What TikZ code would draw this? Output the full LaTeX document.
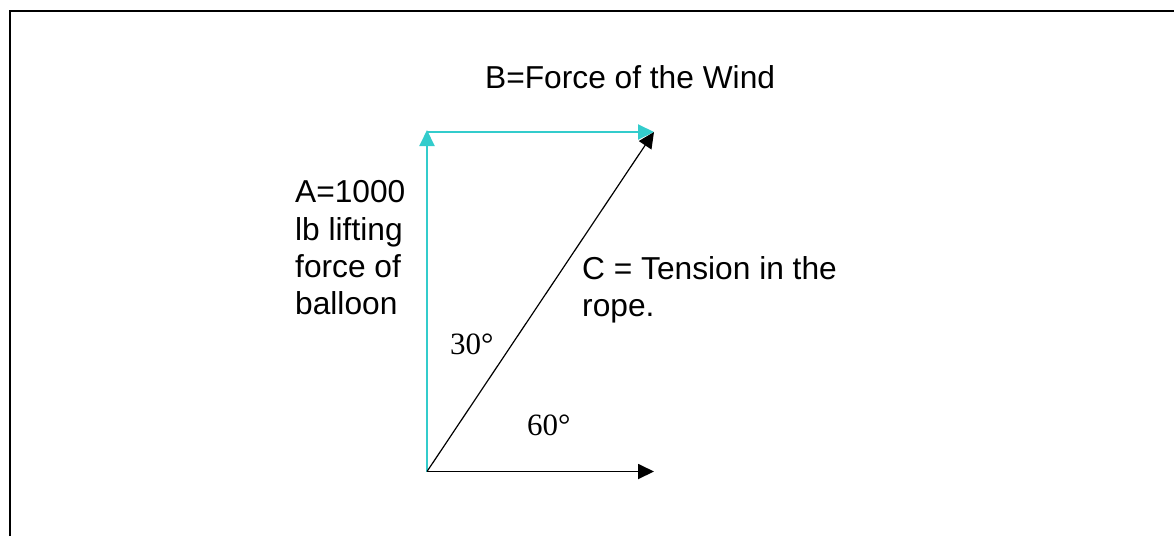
\documentclass[tikz,border=0pt]{standalone}
\usepackage{fontspec}
\setmainfont{Liberation Sans}
\newfontfamily\serifdeg{Liberation Serif}
\usetikzlibrary{arrows.meta}
\definecolor{vcyan}{RGB}{51,204,204}
\begin{document}
\begin{tikzpicture}[x=1pt,y=-1pt,
  lbl/.style={inner sep=0pt,anchor=base west,font=\fontsize{31.7}{37.5}\selectfont},
  deg/.style={inner sep=0pt,anchor=base west,font=\serifdeg\fontsize{31}{36}\selectfont},
  cyanarrow/.style={draw=vcyan,line width=2pt,-{Triangle[length=16pt,width=15pt]}},
  blackarrow/.style={draw=black,line width=1.2pt,-{Triangle[length=16pt,width=15pt]}},
  frame/.style={draw=black,line width=2pt}]
\useasboundingbox (0,0) rectangle (1174,536);
\draw[frame] (9.5,536) -- (9.5,11) -- (1174,11);
\coordinate (O) at (427,471.5);
\coordinate (Atip) at (427,130);
\coordinate (Bstart) at (427,132);
\coordinate (Btip) at (654,132);
\coordinate (Ctip) at (654,132);
\coordinate (Dtip) at (654,471.5);
\draw[cyanarrow] (O) -- (Atip);
\draw[cyanarrow] (Bstart) -- (Btip);
\draw[blackarrow] (O) -- (Ctip);
\draw[blackarrow,line width=1.8pt] (O) -- (Dtip);
\node[lbl] (b) at (485,88) {B=Force of the Wind};
\node[lbl] (a1) at (295,202) {A=1000};
\node[lbl] (a2) at (295,240) {lb lifting};
\node[lbl] (a3) at (295,277) {force of};
\node[lbl] (a4) at (295,314) {balloon};
\node[lbl] (c1) at (582,279) {C = Tension in the};
\node[lbl] (c2) at (582,316) {rope.};
\node[deg] (d30) at (450,354) {30°};
\node[deg] (d60) at (527,435) {60°};
\end{tikzpicture}
\end{document}
